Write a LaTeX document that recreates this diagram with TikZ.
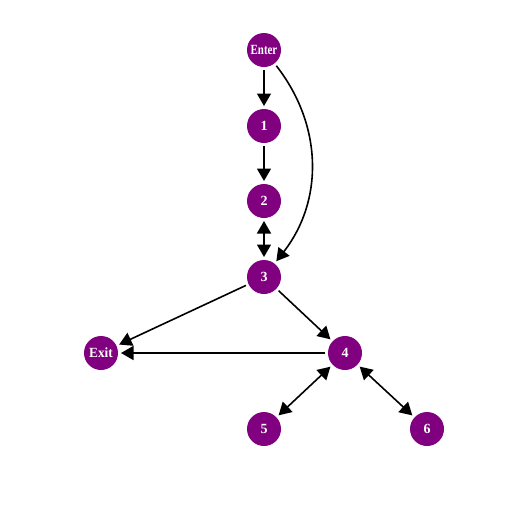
\documentclass[tikz,border=0pt]{standalone}
\usepackage{fontspec}
\setmainfont{Liberation Serif}
\usetikzlibrary{arrows.meta}
\definecolor{nodepurple}{HTML}{800080}
\begin{document}
\begin{tikzpicture}[x=1pt,y=-1pt,
  vnode/.style={circle,fill=nodepurple,minimum size=34pt,inner sep=0pt,outer sep=3pt,
    text=white,font=\bfseries\fontsize{14}{14}\selectfont},
  edge/.style={line width=1.6pt,-{Triangle[length=12.5pt,width=14pt]}},
  dedge/.style={line width=1.6pt,{Triangle[length=12.5pt,width=14pt]}-{Triangle[length=12.5pt,width=14pt]}}]
\useasboundingbox (0,0) rectangle (528,528);
\node[vnode] (enter) at (264,50) {\scalebox{0.78}[1]{Enter}};
\node[vnode] (n1) at (264,126) {1};
\node[vnode] (n2) at (264,201) {2};
\node[vnode] (n3) at (264,277) {3};
\node[vnode] (exit) at (101,353) {\scalebox{0.95}[1]{Exit}};
\node[vnode] (n4) at (345,353) {4};
\node[vnode] (n5) at (264,429) {5};
\node[vnode] (n6) at (427,429) {6};
\draw[edge] (enter) -- (n1);
\draw[edge] (n1) -- (n2);
\draw[dedge] (n2) -- (n3);
\draw[edge] (enter) to[bend left=38] (n3);
\draw[edge] (n3) -- (exit);
\draw[edge] (n3) -- (n4);
\draw[edge] (n4) -- (exit);
\draw[dedge] (n4) -- (n5);
\draw[dedge] (n4) -- (n6);
\end{tikzpicture}
\end{document}
